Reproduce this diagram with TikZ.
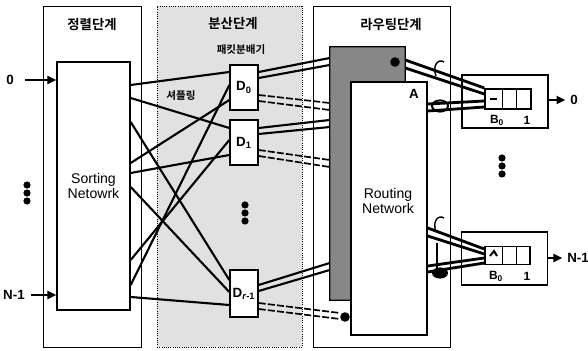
\documentclass[tikz,border=0pt]{standalone}
\usepackage{fontspec}
\setmainfont{Liberation Sans}
\newfontfamily\kor{Noto Sans CJK KR}[BoldFont={Noto Sans CJK KR Bold}]
\usetikzlibrary{arrows.meta, positioning, calc}
\definecolor{stagegray}{RGB}{225,225,225}
\definecolor{fabricgray}{RGB}{135,135,135}

\begin{document}
\begin{tikzpicture}[x=0.25mm, y=-0.25mm, font=\fontsize{9.5}{11}\selectfont\bfseries,
  stage/.style={draw, line width=0.6pt, inner sep=0pt},
  box/.style={draw, line width=1pt, fill=white, inner sep=0pt},
  title/.style={font=\fontsize{9.5}{11}\selectfont\kor\bfseries, inner sep=1pt},
  ktext/.style={font=\fontsize{7.5}{9}\selectfont\kor\bfseries, inner sep=1pt},
  wire/.style={line width=1.5pt},
  dwire/.style={line width=1.2pt, dash pattern=on 5pt off 1.5pt},
  fatwire/.style={line width=2pt},
  arr/.style={line width=1.6pt, -{Triangle[length=2.2mm, width=2mm]}},
  blob/.style={circle, fill, inner sep=0pt, minimum size=2.4mm}]
  \useasboundingbox (0,0) rectangle (588,351);

  % three stages
  \node[stage, minimum width=24.5mm, minimum height=85.25mm] (sortstage) at (92,176.5) {};
  \node[stage, densely dotted, fill=stagegray, minimum width=36.25mm, minimum height=85.25mm] (diststage) at (229.5,176.5) {};
  \node[stage, minimum width=34.25mm, minimum height=85.25mm] (routestage) at (381.5,176.5) {};
  \node[title] (sorttitle) at (92,25) {정렬단계};
  \node[title] (disttitle) at (233,23) {분산단계};
  \node[title] (routetitle) at (391,25) {라우팅단계};
  \node[ktext] (pkttitle) at (241,50) {패킷분배기};
  \node[ktext] (shuffle) at (181,96) {셔플링};

  % sorting network and inputs
  \node[box, minimum width=18.25mm, minimum height=62mm, align=center] (sortnet) at (93.5,186)
    {\fontsize{10}{12}\selectfont\mdseries Sorting\\[-1pt]\fontsize{10}{12}\selectfont\mdseries Netowrk};
  \node (in0) at (10,80) {0};
  \node (inN) at (14,295) {N-1};
  \draw[arr, shorten <=1.5mm] (in0.east) -- (sortnet.west |- in0);
  \draw[arr, shorten <=0.3mm] (inN.east) -- (sortnet.west |- inN);
  \foreach \y in {185,193,201} \fill (27,\y) circle (0.9mm);

  % distributors
  \node[box, minimum width=7mm, minimum height=11.25mm] (D0) at (244,87.5) {D\textsubscript{0}};
  \node[box, minimum width=7mm, minimum height=11.25mm] (D1) at (244,142.5) {D\textsubscript{1}};
  \node[box, minimum width=7mm, minimum height=11.75mm] (Dr) at (244,293.5) {D\textsubscript{\textit{r}-1}};
  \foreach \y in {205,213,221} \fill (245,\y) circle (0.9mm);

  % routing stage
  \node[fill=fabricgray, inner sep=0pt, minimum width=5.25mm, minimum height=63.25mm] (fabcol) at (340.5,173.5) {};
  \node[fill=fabricgray, inner sep=0pt, minimum width=18.75mm, minimum height=8.75mm] (fabbar) at (367.5,64.5) {};
  \draw[line width=1pt] (fabbar.north west) -- (fabbar.north east) -- (fabbar.south east)
    -- (fabcol.north east |- fabbar.south) -- (fabcol.south east) -- (fabcol.south west) -- cycle;
  \node[blob] (fabdot) at (395,62) {};
  \node[box, minimum width=19mm, minimum height=63.25mm] (routing) at (389,208.5) {};
  \node[align=center, font=\fontsize{10}{12}\selectfont] (routetext) at (388,201) {Routing\\[-1pt]Network};
  \node (Alab) at (414,94) {A};

  % shuffle wires
  \foreach \a/\d/\b in {85/D0/72, 98/D1/128, 122/Dr/280, 163/D0/100, 173/D1/155,
                        187/Dr/292, 260/D1/140, 285/D0/85, 297/Dr/305}
    \draw[wire] (sortnet.east |- 0,\a) -- (\d.west |- 0,\b);

  % distributor outputs
  \foreach \d/\a/\b in {D0/72/58, D0/78/65, D1/128/120, D1/134/127, Dr/285/263, Dr/291/270}
    \draw[wire] (\d.east |- 0,\a) -- (fabcol.west |- 0,\b);
  \foreach \d/\a/\b in {D0/95/103, D0/101/110, D1/150/160, D1/156/167}
    \draw[dwire] (\d.east |- 0,\a) -- (fabcol.west |- 0,\b);
  \node[blob] (junc) at (345,317) {};
  \foreach \a/\b in {303/313, 309/319}
    \draw[dwire] (Dr.east |- 0,\a) -- (junc.west |- 0,\b);

  % output buffers
  \node[box, minimum width=21.5mm, minimum height=13.25mm] (buf0) at (505,101.5) {};
  \node[box, minimum width=21.5mm, minimum height=13.25mm] (buf1) at (504.5,258.5) {};
  \node[draw, line width=1pt, inner sep=0pt, minimum width=11.5mm, minimum height=5mm] (q0) at (508,99) {};
  \node[draw, line width=1pt, inner sep=0pt, minimum width=11.25mm, minimum height=4.5mm] (q1) at (507.5,255.5) {};
  \foreach \q in {q0,q1} {
    \draw[line width=1pt] ($(\q.north west)+(18,0)$) -- ($(\q.south west)+(18,0)$);
    \draw[line width=1pt] ($(\q.north west)+(32,0)$) -- ($(\q.south west)+(32,0)$);
  }
  \draw[line width=1.4pt] (490,99) -- (497,99);
  \draw[line width=1.4pt] (490,256) -- (494,251) -- (497,256);
  \node[font=\fontsize{8.5}{10}\selectfont\bfseries] (b0lab) at (497,120) {B\textsubscript{0}};
  \node[font=\fontsize{8.5}{10}\selectfont\bfseries] (one0) at (527,120) {1};
  \node[font=\fontsize{8.5}{10}\selectfont\bfseries] (b1lab) at (496,276) {B\textsubscript{0}};
  \node[font=\fontsize{8.5}{10}\selectfont\bfseries] (one1) at (527,276) {1};
  \node (out0) at (574,100) {0};
  \node (outN) at (578,258) {N-1};
  \draw[arr] (buf0.east |- out0) -- (out0.west);
  \draw[arr] (buf1.east |- outN) -- (outN.west);
  \foreach \y in {158,166,174} \fill (502,\y) circle (0.9mm);

  % routing to buffers
  \draw[fatwire] (fabbar.east |- 0,60) -- (q0.west |- 0,88);
  \draw[fatwire] (fabbar.east |- 0,68) -- (q0.west |- 0,94);
  \draw[fatwire] (routing.east |- 0,104) -- (q0.west |- 0,101);
  \draw[fatwire] (routing.east |- 0,111) -- (q0.west |- 0,107);
  \draw[line width=1pt] (436,76) .. controls (432,66) and (438,58) .. (444,62);
  \draw[line width=1.4pt] (440,106) ellipse (2mm and 1.4mm);
  \draw[fatwire] (routing.east |- 0,228) -- (q1.west |- 0,249);
  \draw[fatwire] (routing.east |- 0,236) -- (q1.west |- 0,254);
  \draw[fatwire] (routing.east |- 0,266) -- (q1.west |- 0,258);
  \draw[fatwire] (routing.east |- 0,272) -- (q1.west |- 0,263);
  \draw[line width=1pt] (436,232) .. controls (432,222) and (438,214) .. (444,218);
  \draw[line width=1pt] (437,243) -- (437,268);
  \fill (440,273) ellipse (2mm and 1.4mm);
\end{tikzpicture}
\end{document}
